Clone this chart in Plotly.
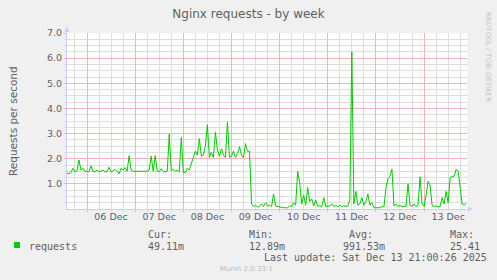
import pandas as pd
import plotly.graph_objects as go

# ---------------- data (hourly averages, requests per second) ----------------
series_start = "2025-12-05 14:00"
dec05 = [1.43, 1.40, 1.45, 1.62, 1.48, 1.52, 1.95, 1.55, 1.62, 1.50]
dec06 = [1.50, 1.48, 1.72, 1.50, 1.48, 1.55, 1.48, 1.50, 1.55, 1.47, 1.50, 1.66,
         1.48, 1.52, 1.58, 1.50, 1.40, 1.62, 1.55, 1.65, 1.50, 2.12, 1.55, 1.50]
dec07 = [1.50, 1.50, 1.50, 1.50, 1.50, 1.50, 1.50, 1.55, 2.10, 1.50, 2.12, 1.50,
         1.48, 1.60, 1.50, 1.48, 1.50, 2.98, 1.52, 1.58, 1.50, 1.55, 1.48, 2.85]
dec08 = [1.45, 1.45, 1.62, 1.55, 1.85, 2.05, 2.30, 2.15, 2.80, 2.10, 2.15, 2.50,
         3.35, 2.05, 2.25, 2.05, 3.05, 2.35, 2.10, 2.40, 2.15, 2.05, 3.45, 2.05]
dec09 = [2.10, 2.30, 2.05, 2.20, 2.48, 2.15, 2.05, 2.60, 2.30, 2.30, 0.20, 0.10,
         0.15, 0.08, 0.10, 0.20, 0.10, 0.25, 0.12, 0.15, 0.10, 0.60, 0.12, 0.10]
dec10 = [0.08, 0.05, 0.05, 0.05, 0.05, 0.12, 0.10, 0.25, 0.15, 1.50, 1.05, 0.20,
         0.55, 0.15, 0.85, 0.30, 0.40, 0.12, 0.35, 0.10, 0.15, 0.08, 0.45, 0.10]
dec11 = [0.10, 0.12, 0.20, 0.10, 0.15, 0.08, 0.15, 0.10, 0.12, 0.10, 0.12, 0.35,
         6.25, 0.20, 0.70, 0.15, 0.20, 0.45, 0.15, 0.30, 0.60, 0.15, 0.25, 0.05]
dec12 = [0.05, 0.05, 0.05, 0.10, 0.08, 0.85, 1.20, 1.30, 1.58, 0.12, 0.20, 0.10,
         0.15, 0.08, 0.12, 0.10, 1.00, 0.15, 0.10, 0.20, 0.10, 0.15, 1.28, 0.20]
dec13 = [0.10, 0.55, 1.10, 0.95, 0.15, 0.10, 0.12, 0.08, 0.10, 0.45, 0.20, 0.70,
         0.25, 1.25, 1.30, 1.30, 1.58, 1.50, 0.80, 0.20, 0.15, 0.22]

x_range = ["2025-12-05 14:02", "2025-12-13 21:24"]
day_ticks = ["2025-12-06 12:00", "2025-12-07 12:00", "2025-12-08 12:00", "2025-12-09 12:00",
             "2025-12-10 12:00", "2025-12-11 12:00", "2025-12-12 12:00", "2025-12-13 12:00"]
day_labels = ["06 Dec", "07 Dec", "08 Dec", "09 Dec", "10 Dec", "11 Dec", "12 Dec", "13 Dec"]
y_ticks = [1, 2, 3, 4, 5, 6, 7]
y_labels = ["1.0", "2.0", "3.0", "4.0", "5.0", "6.0", "7.0"]
y_minor = [0.25, 0.5, 0.75, 1.25, 1.5, 1.75, 2.25, 2.5, 2.75, 3.25, 3.5, 3.75,
           4.25, 4.5, 4.75, 5.25, 5.5, 5.75, 6.25, 6.5, 6.75]

stat_names = ["Cur:", "Min:", "Avg:", "Max:"]
stat_values = ["49.11m", "12.89m", "991.53m", "25.41"]
series_name = "requests"
last_update = "Last update: Sat Dec 13 21:00:26 2025"

values = dec05 + dec06 + dec07 + dec08 + dec09 + dec10 + dec11 + dec12 + dec13
times = pd.date_range(series_start, periods=len(values), freq="h")

# ---------------- styling ----------------
W, H = 497, 280
L, R, T, B = 67, 467, 33, 209      # plot area in pixels
FONT = "#606060"
GREEN = "#00cc00"
MAJ = "#f3b4b4"
MIN = "#dedede"
AXIS = "#c8d0f8"
DASH = "solid"


def px(x):
    return (x - L) / (R - L)


def py(y):
    return (B - y) / (B - T)


fig = go.Figure()
fig.add_trace(go.Scatter(x=times, y=values, mode="lines", name=series_name,
                         line=dict(color=GREEN, width=1), showlegend=False,
                         hoverinfo="skip"))
# helper trace so the label axis is drawn
fig.add_trace(go.Scatter(x=x_range, y=[None, None], xaxis="x2", yaxis="y",
                         mode="lines", showlegend=False, hoverinfo="skip"))

annotations = []
mono = dict(family="DejaVu Sans Mono", size=10, color=FONT)

# legend block
annotations.append(dict(x=px(27), y=py(246), xref="paper", yref="paper", text=series_name,
                        showarrow=False, xanchor="left", yanchor="middle", font=mono))
stat_x = [146, 247, 347, 448]
val_x = [146, 247, 341, 448]
for n, v, sx, vx in zip(stat_names, stat_values, stat_x, val_x):
    annotations.append(dict(x=px(sx), y=py(234), xref="paper", yref="paper", text=n,
                            showarrow=False, xanchor="left", yanchor="middle", font=mono))
    annotations.append(dict(x=px(vx), y=py(246), xref="paper", yref="paper", text=v,
                            showarrow=False, xanchor="left", yanchor="middle", font=mono))
annotations.append(dict(x=px(262), y=py(257), xref="paper", yref="paper", text=last_update,
                        showarrow=False, xanchor="left", yanchor="middle", font=mono))
annotations.append(dict(x=px(246), y=py(269), xref="paper", yref="paper", text="Munin 2.0.33-1",
                        showarrow=False, xanchor="center", yanchor="middle",
                        font=dict(family="DejaVu Sans", size=7, color="#bbbbbb")))
annotations.append(dict(x=px(488), y=py(57), xref="paper", yref="paper",
                        text="RRDTOOL / TOBI OETIKER", textangle=90,
                        showarrow=False, xanchor="center", yanchor="middle",
                        font=dict(family="DejaVu Sans", size=7, color="#c4c4c4")))
annotations.append(dict(x=px(13), y=0.5, xref="paper", yref="paper",
                        text="Requests per second", textangle=-90,
                        showarrow=False, xanchor="center", yanchor="middle",
                        font=dict(family="DejaVu Sans", size=10.5, color=FONT)))
# axis arrows
annotations.append(dict(x=px(473), y=0, xref="paper", yref="paper", ax=-7, ay=0, text="",
                        showarrow=True, arrowhead=2, arrowsize=1, arrowwidth=1,
                        arrowcolor=AXIS))
annotations.append(dict(x=0, y=py(27), xref="paper", yref="paper", ax=0, ay=7, text="",
                        showarrow=True, arrowhead=2, arrowsize=1, arrowwidth=1,
                        arrowcolor=AXIS))

shapes = [dict(type="rect", xref="paper", yref="paper", x0=px(14), x1=px(20),
               y0=py(248), y1=py(242), fillcolor=GREEN, line=dict(width=0))]

fig.update_layout(
    template="none",
    width=W, height=H,
    margin=dict(l=L, r=W - R, t=T, b=H - B),
    paper_bgcolor="#f0f0f0", plot_bgcolor="#ffffff",
    title=dict(text="Nginx requests - by week", x=0.5, xref="container", xanchor="center",
               y=1 - 13.5 / H, yref="container", yanchor="middle",
               font=dict(family="DejaVu Sans", size=12, color=FONT)),
    # grid axis (days major, 6 h minor)
    xaxis=dict(type="date", range=x_range, tickmode="linear", tick0="2025-12-06",
               dtick=86400000, showticklabels=False, showgrid=True, gridcolor=MAJ,
               griddash=DASH, gridwidth=1, zeroline=False,
               showline=True, linecolor=AXIS, linewidth=1,
               ticks="outside", ticklen=2, tickcolor=MAJ,
               minor=dict(tickmode="linear", tick0="2025-12-06", dtick=21600000,
                          showgrid=True, gridcolor=MIN, griddash=DASH, gridwidth=1,
                          ticks="outside", ticklen=2, tickcolor=MIN)),
    # label axis (day names at noon)
    xaxis2=dict(type="date", range=x_range, overlaying="x", anchor="y", side="bottom",
                tickmode="array", tickvals=day_ticks, ticktext=day_labels,
                showgrid=False, zeroline=False, ticks="", showline=False,
                tickfont=dict(family="DejaVu Sans", size=9.5, color=FONT)),
    yaxis=dict(range=[0, 7], tickmode="array", tickvals=y_ticks, ticktext=y_labels,
               showgrid=True, gridcolor=MAJ, griddash=DASH, gridwidth=1,
               zeroline=False, showline=True, linecolor=AXIS, linewidth=1,
               ticks="outside", ticklen=2, tickcolor=MAJ,
               tickfont=dict(family="DejaVu Sans", size=9.5, color=FONT),
               minor=dict(tickmode="array", tickvals=y_minor, showgrid=True,
                          gridcolor=MIN, griddash=DASH, gridwidth=1,
                          ticks="outside", ticklen=2, tickcolor=MIN)),
    annotations=annotations,
    shapes=shapes,
    showlegend=False,
)

fig.write_html("out.html")
